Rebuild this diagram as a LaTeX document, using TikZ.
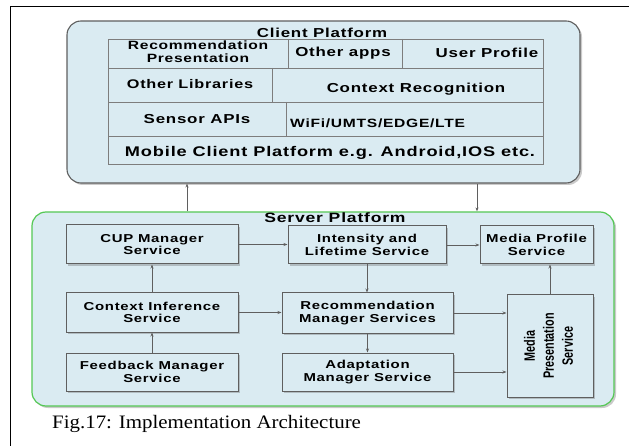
\documentclass[tikz,border=0pt]{standalone}
\usepackage{fontspec}
\usetikzlibrary{shadows,arrows.meta}
\newfontfamily\cf[FakeStretch=1.3,LetterSpace=6]{Liberation Sans}
\newfontfamily\mpf[FakeStretch=0.72]{Liberation Sans}
\newfontfamily\capf[FakeStretch=1.1]{Liberation Serif}
\definecolor{pbg}{RGB}{218,235,242}
\definecolor{pgreen}{RGB}{85,200,85}
\definecolor{pline}{RGB}{95,95,95}
\definecolor{gline}{RGB}{125,125,125}
\begin{document}
\begin{tikzpicture}[x=1pt,y=-1pt,
  shad/.style={drop shadow={shadow xshift=2pt,shadow yshift=-2pt,opacity=0.35,fill=black!60}},
  sbox/.style={draw=pline,line width=1pt,fill=pbg,shad,inner sep=0pt,align=center,
    font=\cf\bfseries\fontsize{11.5}{12.5}\selectfont},
  ctext/.style={inner sep=0pt,align=center,font=\cf\bfseries\fontsize{12.5}{12.5}\selectfont},
  arr/.style={-{Stealth[length=4pt,width=3pt]},draw=pline,line width=0.8pt},
  gridl/.style={draw=gline,line width=0.9pt},
]
\useasboundingbox (0,0) rectangle (629,446);
\draw[line width=0.8pt] (10,446) -- (10,6) -- (629,6);

% client platform
\node[draw=pline,line width=1.1pt,fill=pbg,rounded corners=14pt,shad,
  minimum width=513pt,minimum height=162pt,inner sep=0pt] (client) at (323.5,102) {};
\node[ctext,font=\cf\bfseries\fontsize{13}{13}\selectfont] (ctitle) at (322,33) {Client Platform};
\draw[gridl] (108,39) rectangle (543,164);
\draw[gridl] (108,68) -- (543,68) (108,102) -- (543,102) (108,136) -- (543,136);
\draw[gridl] (288,39) -- (288,68) (402,39) -- (402,68) (272,68) -- (272,102) (286,102) -- (286,136);
\node[ctext,font=\cf\bfseries\fontsize{12}{12.5}\selectfont] (recp) at (198,51.5) {Recommendation\\Presentation};
\node[ctext,font=\cf\bfseries\fontsize{13}{13}\selectfont] (oapps) at (343,53) {Other apps};
\node[ctext,font=\cf\bfseries\fontsize{13}{13}\selectfont] (uprof) at (487,53) {User Profile};
\node[ctext] (olib) at (190,84) {Other Libraries};
\node[ctext,font=\cf\bfseries\fontsize{13}{13}\selectfont] (crec) at (416,89) {Context Recognition};
\node[ctext,font=\cf\bfseries\fontsize{13}{13}\selectfont] (sapi) at (197,119) {Sensor APIs};
\node[ctext,font=\cf\bfseries\fontsize{12}{12}\selectfont,anchor=west] (wifi) at (290,123) {WiFi/UMTS/EDGE/LTE};
\node[ctext,font=\cf\bfseries\fontsize{14}{14}\selectfont] (mobile) at (330,153) {Mobile Client Platform e.g. Android,IOS etc.};

% server platform
\node[draw=pgreen,line width=1.2pt,fill=pbg,rounded corners=14pt,shad,
  minimum width=582pt,minimum height=194pt,inner sep=0pt] (server) at (323,309) {};
\node[ctext,font=\cf\bfseries\fontsize{13.5}{13.5}\selectfont] (stitle) at (335,218) {Server Platform};

\node[sbox,minimum width=172pt,minimum height=39pt] (cup) at (152,244.5) {CUP Manager\\Service};
\node[sbox,minimum width=158pt,minimum height=38pt] (intens) at (367,245) {Intensity and\\Lifetime Service};
\node[sbox,minimum width=113pt,minimum height=38pt] (mprof) at (536.5,245) {Media Profile\\Service};
\node[sbox,minimum width=172pt,minimum height=39pt] (ctxinf) at (152,312.5) {Context Inference\\Service};
\node[sbox,minimum width=171pt,minimum height=40pt] (recom) at (367.5,313) {Recommendation\\Manager Services};
\node[sbox,minimum width=172pt,minimum height=38pt] (feed) at (152,372) {Feedback Manager\\Service};
\node[sbox,minimum width=171pt,minimum height=38pt] (adapt) at (367.5,372) {Adaptation\\Manager Service};
\node[sbox,minimum width=86pt,minimum height=102pt] (mpres) at (550,346)
  {\rotatebox{90}{\mpf\bfseries\fontsize{15}{19}\selectfont\begin{tabular}{@{}c@{}}Media\\Presentation\\Service\end{tabular}}};

\draw[arr] (cup.east) -- (intens.west |- cup.east);
\draw[arr] (intens.east) -- (mprof.west |- intens.east);
\draw[arr] (intens.south) -- (recom.north -| intens.south);
\draw[arr] (ctxinf.north) -- (cup.south);
\draw[arr] (feed.north) -- (ctxinf.south);
\draw[arr] (ctxinf.east) -- (recom.west |- ctxinf.east);
\draw[arr] (recom.east) -- (mpres.west |- recom.east);
\draw[arr] (recom.south) -- (adapt.north -| recom.south);
\draw[arr] (adapt.east) -- (mpres.west |- adapt.east);
\draw[arr] (mpres.north) -- (mprof.south -| mpres.north);

\draw[arr] (server.north -| 187,0) -- (client.south -| 187,0);
\draw[arr] (client.south -| 477,0) -- (server.north -| 477,0);

\node[anchor=base west,inner sep=0pt,font=\capf\fontsize{19}{20}\selectfont] (cap) at (52,428) {Fig.17: Implementation Architecture};
\end{tikzpicture}
\end{document}
